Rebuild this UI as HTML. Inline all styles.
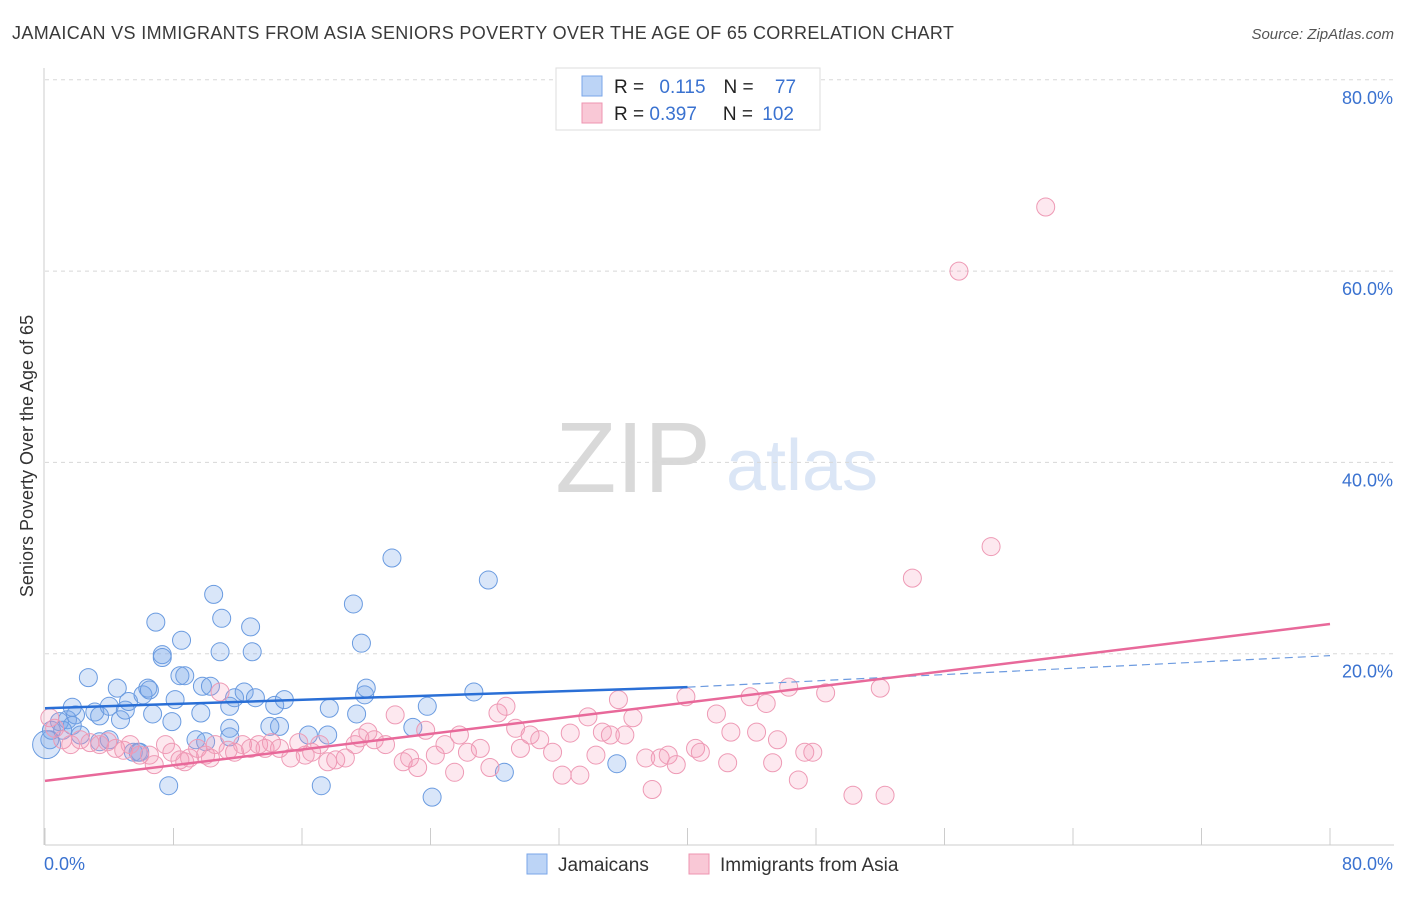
<!DOCTYPE html>
<html><head><meta charset="utf-8">
<style>
html,body{margin:0;padding:0;background:#fff;}
body{width:1406px;height:892px;overflow:hidden;font-family:"Liberation Sans",sans-serif;}
svg text{font-family:"Liberation Sans",sans-serif;}
</style></head>
<body>
<svg id="chart" width="1406" height="892">
  <text x="12" y="39" font-size="18" fill="#3a3a3a" letter-spacing="0.35">JAMAICAN VS IMMIGRANTS FROM ASIA SENIORS POVERTY OVER THE AGE OF 65 CORRELATION CHART</text>
  <text x="1394" y="39" font-size="15" fill="#555" text-anchor="end" font-style="italic">Source: ZipAtlas.com</text>
  <text transform="translate(33,456) rotate(-90)" font-size="18" fill="#333" text-anchor="middle">Seniors Poverty Over the Age of 65</text>
  <g>
    <text x="633" y="492" font-size="100" fill="#d9d9d9" text-anchor="middle" font-family="Liberation Serif">ZIP</text>
    <text x="802" y="490" font-size="72" fill="#dbe6f6" text-anchor="middle">atlas</text>
  </g>
  <g id="grid"></g>
  <g id="axes"></g>
  <g id="pts"></g>
  <g id="trends"></g>
  <g>
    <rect x="556" y="68" width="264" height="62" fill="#fff" stroke="#ddd"/>
    <rect x="582" y="76" width="20" height="20" fill="#bcd4f6" stroke="#7aa6e8"/>
    <rect x="582" y="103" width="20" height="20" fill="#f9c8d6" stroke="#ee94b0"/>
    <text x="614" y="93" font-size="19" fill="#222">R = <tspan fill="#3a72d0" dx="10">0.115</tspan><tspan fill="#222" dx="18">N = </tspan><tspan fill="#3a72d0" dx="16">77</tspan></text>
    <text x="614" y="120" font-size="19" fill="#222">R = <tspan fill="#3a72d0">0.397</tspan><tspan fill="#222" dx="26">N = </tspan><tspan fill="#3a72d0" dx="4">102</tspan></text>
  </g>
  <g>
    <rect x="527" y="854" width="20" height="20" fill="#bcd4f6" stroke="#7aa6e8"/>
    <text x="558" y="871" font-size="19" fill="#333">Jamaicans</text>
    <rect x="689" y="854" width="20" height="20" fill="#f9c8d6" stroke="#ee94b0"/>
    <text x="720" y="871" font-size="19" fill="#333">Immigrants from Asia</text>
  </g>
</svg>
<script>
const yTicks=[20,40,60,80];
const yTickLabels=["20.0%","40.0%","60.0%","80.0%"];
const xTicks=[0,8,16,24,32,40,48,56,64,72,80];
const xEndLabels=["0.0%","80.0%"];
const blueX=[0.3,0.9,1.4,1.9,2.7,1.7,3.1,3.4,4.0,4.5,4.7,5.0,5.2,5.5,5.9,6.1,6.4,6.5,6.9,7.3,7.3,6.7,7.9,8.1,8.4,8.7,8.5,9.8,10.3,10.5,11.0,10.9,9.7,9.4,10.0,11.5,11.5,11.8,12.4,12.8,12.9,13.1,14.3,14.6,14.9,7.7,17.2,16.4,17.6,17.7,19.2,19.7,19.4,19.9,20.0,21.6,22.9,24.1,23.8,26.7,27.6,28.6,35.6,11.5,3.4,5.8,1.7,2.2,14.0,0.4,1.1,4.0,0.1];
const blueY=[11.0,12.9,13.1,13.6,17.5,14.4,13.9,13.5,14.5,16.4,13.1,14.1,15.0,9.7,9.7,15.7,16.4,16.2,23.3,19.9,19.6,13.7,12.9,15.2,17.7,17.7,21.4,16.6,16.6,26.2,23.7,20.2,13.8,11.0,10.8,12.2,14.5,15.4,16.0,22.8,20.2,15.4,14.6,12.4,15.2,6.2,6.2,11.5,11.5,14.3,25.2,21.1,13.7,15.7,16.4,30.0,12.3,5.0,14.5,16.0,27.7,7.6,8.5,11.3,10.8,9.7,12.5,11.5,12.4,12.0,12.0,11.0,10.5];
const pinkX=[0.3,0.6,1.1,1.6,2.2,2.8,3.4,3.9,4.4,4.9,5.3,5.9,6.5,6.8,7.5,7.9,8.4,8.7,9.0,9.5,10.0,10.3,10.6,10.9,11.4,11.8,12.3,12.8,13.3,13.7,14.1,14.6,15.3,15.8,16.2,16.6,17.1,17.6,18.1,18.7,19.3,19.6,20.1,20.5,21.2,21.8,22.3,22.7,23.2,23.7,24.3,24.9,25.5,25.8,26.3,27.1,27.7,28.2,28.7,29.3,29.6,30.2,30.8,31.6,32.2,32.7,33.3,33.8,34.3,34.7,35.2,35.7,36.1,36.6,37.4,37.8,38.3,38.8,39.3,39.9,40.5,40.8,41.8,42.5,42.7,43.9,44.3,44.9,45.3,45.6,46.3,46.9,47.3,47.8,48.6,50.3,52.0,52.3,54.0,56.9,58.9,62.3];
const pinkY=[13.3,12.2,11.0,10.5,11.0,10.7,10.5,10.8,10.1,9.9,10.5,9.4,9.4,8.4,10.5,9.7,8.9,8.7,9.1,10.1,9.4,9.1,10.5,16.0,9.9,9.7,10.5,10.1,10.5,10.1,10.7,10.1,9.1,10.7,9.4,9.7,10.5,8.7,8.9,9.1,10.5,11.2,11.8,11.0,10.5,13.6,8.7,9.1,8.1,12.0,9.4,10.5,7.6,11.5,9.7,10.1,8.1,13.8,14.5,12.2,10.1,11.5,11.0,9.7,7.3,11.7,7.3,13.4,9.4,11.8,11.5,15.2,11.5,13.3,9.1,5.8,9.1,9.4,8.4,15.5,10.1,9.7,13.7,8.6,11.8,15.5,11.8,14.8,8.6,11.0,16.5,6.8,9.7,9.7,15.9,5.2,16.4,5.2,27.9,60.0,31.2,66.7];
const blueTrendX=[0,40,80];
const blueTrendY=[14.3,16.5,19.8];
const pinkTrendX=[0,80];
const pinkTrendY=[6.7,23.1];

const NS="http://www.w3.org/2000/svg";
const X0=45,X1=1330,Y0=845,YPER=9.565;
const sx=v=>X0+(v/80)*(X1-X0);
const sy=v=>Y0-v*YPER;
function mk(tag,attrs,parent){const e=document.createElementNS(NS,tag);for(const k in attrs)e.setAttribute(k,attrs[k]);parent.appendChild(e);return e;}
const grid=document.getElementById('grid'),axes=document.getElementById('axes'),pts=document.getElementById('pts'),tr=document.getElementById('trends');
yTicks.forEach((t,i)=>{
  const l=mk('line',{x1:X0,x2:1394,y1:sy(t),y2:sy(t),stroke:'#d8d8d8','stroke-dasharray':'4,4'},grid);
  
  
  const tx=mk('text',{x:1393,y:sy(t)+24,'font-size':18,fill:'#3a72d0','text-anchor':'end'},grid);
  tx.textContent=yTickLabels[i];
  
  
});
const ya=mk('line',{x1:X0-1,x2:X0-1,y1:68,y2:Y0,stroke:'#ccc'},axes);


const xa=mk('line',{x1:X0,x2:1394,y1:Y0,y2:Y0,stroke:'#ccc'},axes);


xTicks.forEach(t=>{
  const l=mk('line',{x1:sx(t),x2:sx(t),y1:Y0-17,y2:Y0,stroke:'#ccc'},axes);
  
  
});
[[0,'start',44],[80,'end',1393]].forEach((d,i)=>{
  const tx=mk('text',{x:d[2],y:870,'font-size':18,fill:'#3a72d0','text-anchor':d[1]},axes);
  tx.textContent=xEndLabels[i];
  
  
});
blueX.forEach((x,i)=>{
  const r=(i===blueX.length-1)?14:9;
  const c=mk('circle',{cx:sx(x),cy:sy(blueY[i]),r:r,fill:'rgba(120,165,235,0.28)',stroke:'#6a9be0','stroke-width':1},pts);
  
  
});
pinkX.forEach((x,i)=>{
  const c=mk('circle',{cx:sx(x),cy:sy(pinkY[i]),r:9,fill:'rgba(244,150,180,0.22)',stroke:'#ee9ab5','stroke-width':1},pts);
  
  
});
const b1=mk('line',{x1:sx(blueTrendX[0]),y1:sy(blueTrendY[0]),x2:sx(blueTrendX[1]),y2:sy(blueTrendY[1]),stroke:'#2a6fd6','stroke-width':2.5},tr);


const b2=mk('line',{x1:sx(blueTrendX[1]),y1:sy(blueTrendY[1]),x2:sx(blueTrendX[2]),y2:sy(blueTrendY[2]),stroke:'#6d9be0','stroke-width':1.2,'stroke-dasharray':'8,5'},tr);


const p1=mk('line',{x1:sx(pinkTrendX[0]),y1:sy(pinkTrendY[0]),x2:sx(pinkTrendX[1]),y2:sy(pinkTrendY[1]),stroke:'#e8699a','stroke-width':2.5},tr);


</script>
</body></html>
